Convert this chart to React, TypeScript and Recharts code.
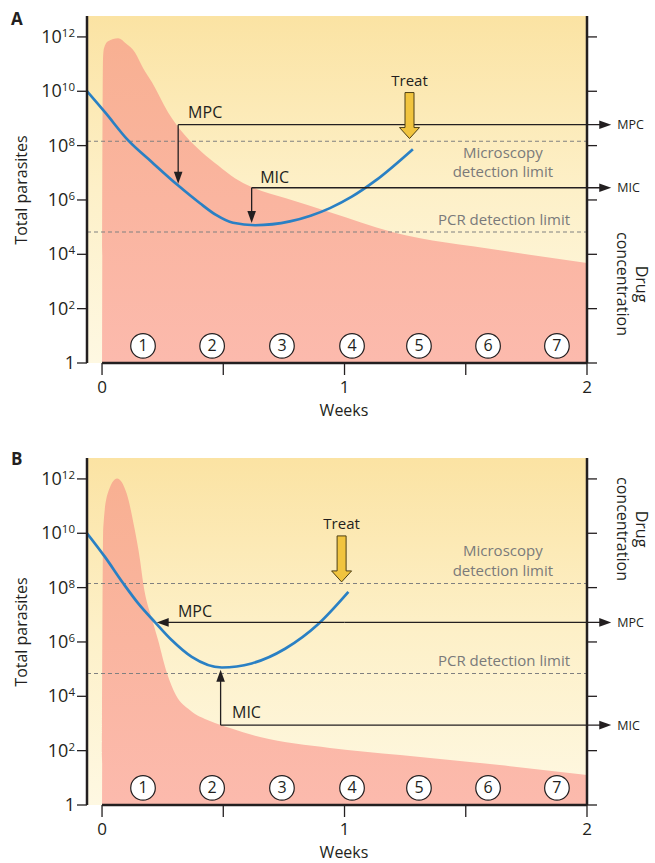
import React from 'react';
import {
  ComposedChart,
  Area,
  Line,
  XAxis,
  YAxis,
  CartesianGrid,
  ReferenceLine,
  ReferenceDot,
} from 'recharts';

const FONT = '"Open Sans", "Noto Sans", sans-serif';
const INK = '#231f20';
const BLUE = '#2a80c4';
const GREY = '#7a7a7a';

// axes (y values are log10 of total parasites)
const X_MIN = -0.062;
const X_MAX = 2;
const Y_MAX = 12.77;
const ARROW_END = 2.1; // right-hand arrows run past the drug axis
const yTicks = [0, 2, 4, 6, 8, 10, 12];
const xTicks = [0, 0.5, 1, 1.5, 2];
const xTickLabels = ['0', '1', '2'];

// numbered stages along the bottom
const stageWeeks = [0.169, 0.454, 0.742, 1.031, 1.307, 1.592, 1.876];
const stageLabels = ['1', '2', '3', '4', '5', '6', '7'];
const STAGE_Y = 0.63;

// Panel A: drug concentration (pink) and parasites (blue)
const drugWeeksA = [0, 0.004, 0.008, 0.025, 0.066, 0.1, 0.136, 0.169, 0.206, 0.272, 0.342, 0.412, 0.478, 0.548, 0.619, 0.755, 0.94, 1.196, 1.64, 2.0];
const drugLogA = [0, 11.2, 11.58, 11.84, 11.95, 11.75, 11.43, 10.86, 10.33, 9.23, 8.38, 7.76, 7.28, 6.8, 6.47, 6.07, 5.55, 4.82, 4.15, 3.68];
const parasiteWeeksA = [-0.062, 0.012, 0.107, 0.206, 0.313, 0.404, 0.47, 0.54, 0.631, 0.775, 0.86, 0.94, 1.03, 1.126, 1.282];
const parasiteLogA = [10.0, 9.23, 8.2, 7.39, 6.54, 5.88, 5.45, 5.16, 5.07, 5.21, 5.42, 5.7, 6.12, 6.7, 7.87];

// Panel B
const drugWeeksB = [0, 0.005, 0.023, 0.062, 0.102, 0.133, 0.157, 0.17, 0.21, 0.231, 0.268, 0.305, 0.363, 0.445, 0.528, 0.652, 0.94, 1.23, 1.64, 2.0];
const drugLogB = [0, 10.2, 11.45, 12.02, 11.45, 10.22, 9.0, 8.15, 6.73, 6.07, 4.85, 4.04, 3.49, 3.09, 2.83, 2.5, 2.1, 1.84, 1.47, 1.1];
const parasiteWeeksB = [-0.062, 0.012, 0.088, 0.15, 0.219, 0.287, 0.37, 0.494, 0.617, 0.755, 0.892, 1.016];
const parasiteLogB = [10.0, 9.13, 8.15, 7.41, 6.72, 6.07, 5.45, 5.06, 5.21, 5.75, 6.66, 7.84];

type Row = { w: number; drug: number | null; parasites: number | null };

function mergeSeries(dw: number[], dv: number[], pw: number[], pv: number[]): Row[] {
  const map = new Map<number, Row>();
  dw.forEach((w, i) => {
    const r = map.get(w) ?? { w, drug: null, parasites: null };
    r.drug = dv[i];
    map.set(w, r);
  });
  pw.forEach((w, i) => {
    const r = map.get(w) ?? { w, drug: null, parasites: null };
    r.parasites = pv[i];
    map.set(w, r);
  });
  return Array.from(map.values()).sort((a, b) => a.w - b.w);
}

type Pt = [number, number];
interface Arrow { from: Pt; to: Pt; tag?: string }
interface Note { at: Pt; text: string }

interface PanelConfig {
  letter: string;
  data: Row[];
  microscopy: number;
  pcr: number;
  microAbove: boolean;
  treat: Pt;
  arrows: Arrow[];
  notes: Note[];
  drugLabelY: number;
}

const panelA: PanelConfig = {
  letter: 'A',
  data: mergeSeries(drugWeeksA, drugLogA, parasiteWeeksA, parasiteLogA),
  microscopy: 8.16,
  pcr: 4.82,
  microAbove: false,
  treat: [1.268, 8.26],
  arrows: [
    { from: [0.314, 8.77], to: [0.314, 6.6] },
    { from: [0.314, 8.77], to: [ARROW_END, 8.77], tag: 'MPC' },
    { from: [0.617, 6.45], to: [0.617, 5.15] },
    { from: [0.617, 6.45], to: [ARROW_END, 6.45], tag: 'MIC' },
  ],
  notes: [
    { at: [0.355, 9.03], text: 'MPC' },
    { at: [0.652, 6.64], text: 'MIC' },
  ],
  drugLabelY: 284,
};

const panelB: PanelConfig = {
  letter: 'B',
  data: mergeSeries(drugWeeksB, drugLogB, parasiteWeeksB, parasiteLogB),
  microscopy: 8.15,
  pcr: 4.84,
  microAbove: true,
  treat: [0.988, 8.21],
  arrows: [
    { from: [1.0, 6.72], to: [0.2255, 6.72] },
    { from: [1.0, 6.72], to: [ARROW_END, 6.72], tag: 'MPC' },
    { from: [0.489, 2.94], to: [0.489, 4.98] },
    { from: [0.489, 2.94], to: [ARROW_END, 2.94], tag: 'MIC' },
  ],
  notes: [
    { at: [0.313, 6.91], text: 'MPC' },
    { at: [0.536, 3.2], text: 'MIC' },
  ],
  drugLabelY: 87,
};

function ArrowLine(props: any) {
  const { x1, y1, x2, y2, tag } = props;
  const dx = x2 - x1;
  const dy = y2 - y1;
  const len = Math.hypot(dx, dy) || 1;
  const ux = dx / len;
  const uy = dy / len;
  const L = 12;
  const H = 4.3;
  const bx = x2 - ux * L;
  const by = y2 - uy * L;
  const pts = `${x2},${y2} ${bx - uy * H},${by + ux * H} ${bx + uy * H},${by - ux * H}`;
  return (
    <g>
      <line x1={x1} y1={y1} x2={bx + ux} y2={by + uy} stroke={INK} strokeWidth={1.3} />
      <polygon points={pts} fill={INK} />
      {tag && (
        <text x={x2 + 6} y={y2 + 4.5} fontSize={12.5} fill={INK} fontFamily={FONT}>
          {tag}
        </text>
      )}
    </g>
  );
}

function TreatArrow({ cx, cy }: any) {
  const top = cy - 46;
  const base = cy - 11;
  const d = `M${cx - 4.5},${top} L${cx + 4.5},${top} L${cx + 4.5},${base} L${cx + 10},${base} L${cx},${cy} L${cx - 10},${base} L${cx - 4.5},${base} Z`;
  return (
    <g>
      <path d={d} fill="#f1c43e" stroke="#4d3f14" strokeWidth={1} strokeLinejoin="miter" />
      <text x={cx} y={top - 7} textAnchor="middle" fontSize={15} fill={INK} fontFamily={FONT}>
        Treat
      </text>
    </g>
  );
}

function LeftTick({ x, y, payload }: any) {
  const v = payload.value as number;
  if (v === 0) {
    return (
      <text x={x} y={y + 6} textAnchor="end" fontSize={18} fill={INK} fontFamily={FONT}>
        1
      </text>
    );
  }
  return (
    <text x={x} y={y + 6} textAnchor="end" fontSize={18} fill={INK} fontFamily={FONT}>
      <tspan>10</tspan>
      <tspan dy={-6} fontSize={11.5}>{v}</tspan>
    </text>
  );
}

function BottomTick({ x, y, payload }: any) {
  const v = payload.value as number;
  const label = Number.isInteger(v) ? xTickLabels[v] : '';
  if (!label) return <g />;
  return (
    <text x={x} y={y + 16} textAnchor="middle" fontSize={17} fill={INK} fontFamily={FONT}>
      {label}
    </text>
  );
}

function Panel({ cfg, top }: { cfg: PanelConfig; top: number }) {
  const micro = cfg.microAbove ? [-28, -8] : [17, 36];
  return (
    <div style={{ position: 'absolute', left: 0, top, width: 655, height: 420 }}>
      <ComposedChart
        width={655}
        height={420}
        data={cfg.data}
        margin={{ top: 16, right: 38, bottom: 27, left: 27 }}
      >
        <CartesianGrid horizontal={false} vertical={false} fill="url(#bgGrad)" stroke="none" />
        <XAxis
          dataKey="w"
          type="number"
          domain={[X_MIN, X_MAX]}
          allowDataOverflow
          ticks={xTicks}
          height={30}
          axisLine={false}
          tickSize={12}
          tickMargin={2}
          tickLine={{ stroke: INK, strokeWidth: 1.3 }}
          tick={<BottomTick />}
        />
        <YAxis
          type="number"
          domain={[0, Y_MAX]}
          allowDataOverflow
          ticks={yTicks}
          width={60}
          tickSize={10}
          tickMargin={2}
          axisLine={{ stroke: INK, strokeWidth: 2.5 }}
          tickLine={{ stroke: INK, strokeWidth: 1.3 }}
          tick={<LeftTick />}
        />
        <YAxis
          yAxisId="r"
          orientation="right"
          type="number"
          domain={[0, Y_MAX]}
          allowDataOverflow
          ticks={yTicks}
          width={30}
          tickSize={10}
          axisLine={{ stroke: INK, strokeWidth: 2.5 }}
          tickLine={{ stroke: INK, strokeWidth: 1.3 }}
          tick={() => <g />}
        />
        <Area
          type="monotone"
          dataKey="drug"
          stroke="none"
          fill="url(#drugGrad)"
          fillOpacity={1}
          connectNulls
          isAnimationActive={false}
          activeDot={false}
        />
        <ReferenceLine
          y={cfg.microscopy}
          stroke="#808080"
          strokeWidth={1.1}
          strokeDasharray="4 3"
        />
        <ReferenceLine
          y={cfg.pcr}
          stroke="#808080"
          strokeWidth={1.1}
          strokeDasharray="4 3"
        />
        <Line
          type="monotone"
          dataKey="parasites"
          stroke={BLUE}
          strokeWidth={2.7}
          dot={false}
          activeDot={false}
          connectNulls
          isAnimationActive={false}
        />
        <ReferenceLine
          segment={[{ x: 0, y: 0 }, { x: X_MAX, y: 0 }]}
          ifOverflow="visible"
          stroke={INK}
          strokeWidth={2.5}
        />
        {cfg.arrows.map((a, i) => (
          <ReferenceLine
            key={`arrow_${i}`}
            segment={[{ x: a.from[0], y: a.from[1] }, { x: a.to[0], y: a.to[1] }]}
            ifOverflow="visible"
            shape={(p: any) => <ArrowLine {...p} tag={a.tag} />}
          />
        ))}
        {cfg.notes.map((n, i) => (
          <ReferenceDot
            key={`note_${i}`}
            x={n.at[0]}
            y={n.at[1]}
            r={0}
            ifOverflow="visible"
            shape={(p: any) => (
              <text x={p.cx} y={p.cy} fontSize={16} fill={INK} fontFamily={FONT}>
                {n.text}
              </text>
            )}
          />
        ))}
        <ReferenceDot
          x={1.653}
          y={cfg.microscopy}
          r={0}
          ifOverflow="visible"
          shape={(p: any) => (
            <text textAnchor="middle" fontSize={15} fill={GREY} fontFamily={FONT}>
              <tspan x={p.cx} y={p.cy + micro[0]}>Microscopy</tspan>
              <tspan x={p.cx} y={p.cy + micro[1]}>detection limit</tspan>
            </text>
          )}
        />
        <ReferenceDot
          x={1.93}
          y={cfg.pcr}
          r={0}
          ifOverflow="visible"
          shape={(p: any) => (
            <text x={p.cx} y={p.cy - 7} textAnchor="end" fontSize={15} fill={GREY} fontFamily={FONT}>
              PCR detection limit
            </text>
          )}
        />
        <ReferenceDot
          x={cfg.treat[0]}
          y={cfg.treat[1]}
          r={0}
          ifOverflow="visible"
          shape={(p: any) => <TreatArrow cx={p.cx} cy={p.cy} />}
        />
        {stageWeeks.map((w, i) => (
          <ReferenceDot
            key={`stage_${i}`}
            x={w}
            y={STAGE_Y}
            r={12}
            ifOverflow="visible"
            shape={(p: any) => (
              <g>
                <circle cx={p.cx} cy={p.cy} r={12.3} fill="#fff" stroke={INK} strokeWidth={1.2} />
                <text x={p.cx} y={p.cy + 5.5} textAnchor="middle" fontSize={16} fill={INK} fontFamily={FONT}>
                  {stageLabels[i]}
                </text>
              </g>
            )}
          />
        ))}
      </ComposedChart>
      <svg
        width={655}
        height={420}
        style={{ position: 'absolute', left: 0, top: 0, pointerEvents: 'none' }}
        fontFamily={FONT}
        fill={INK}
      >
        <text x={11} y={cfg.letter === 'A' ? 25 : 23} fontSize={17} fontWeight="bold">
          {cfg.letter}
        </text>
        <text transform="translate(21,190) rotate(-90)" textAnchor="middle" dy="0.35em" fontSize={16}>
          Total parasites
        </text>
        <text transform={`translate(642,${cfg.drugLabelY}) rotate(90)`} textAnchor="middle" dy="0.35em" fontSize={16}>
          Drug
        </text>
        <text transform={`translate(623,${cfg.drugLabelY}) rotate(90)`} textAnchor="middle" dy="0.35em" fontSize={16}>
          concentration
        </text>
        <text x={344} y={416} textAnchor="middle" fontSize={16}>
          Weeks
        </text>
      </svg>
    </div>
  );
}

export default function App() {
  return (
    <div style={{ position: 'absolute', left: 0, top: 0, width: 655, height: 863, background: '#fff' }}>
      <svg width={0} height={0} style={{ position: 'absolute' }}>
        <defs>
          <linearGradient id="bgGrad" x1="0" y1="0" x2="0" y2="1">
            <stop offset="0%" stopColor="#fbe3a3" />
            <stop offset="50%" stopColor="#fdf0c8" />
            <stop offset="100%" stopColor="#fef8e2" />
          </linearGradient>
          <linearGradient id="drugGrad" x1="0" y1="0" x2="0" y2="1">
            <stop offset="0%" stopColor="#f8b092" />
            <stop offset="100%" stopColor="#fcbaad" />
          </linearGradient>
        </defs>
      </svg>
      <Panel cfg={panelA} top={0} />
      <Panel cfg={panelB} top={442} />
    </div>
  );
}
